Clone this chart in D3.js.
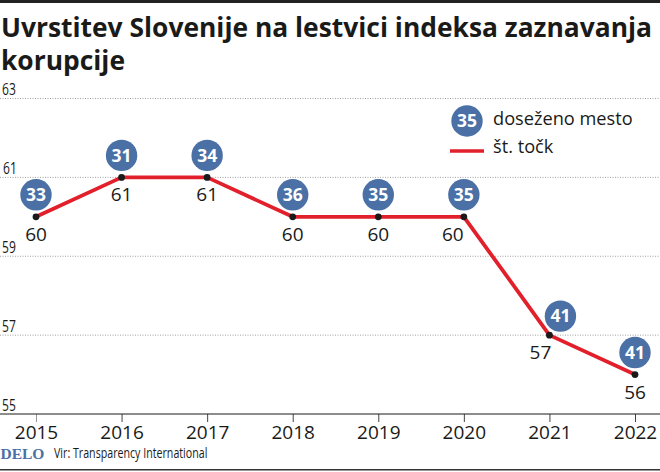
<![CDATA[<!DOCTYPE html>
<html><head><meta charset="utf-8">
<script src="https://cdn.jsdelivr.net/npm/d3@7"></script>
<style>html,body{margin:0;padding:0;background:#fff}svg{display:block}text{font-family:"Open Sans",sans-serif}</style>
</head><body><svg id="c" width="660" height="472"></svg>
<script>
const years=[2015,2016,2017,2018,2019,2020,2021,2022];
const points=[60,61,61,60,60,60,57,56];
const ranks=[33,31,34,36,35,35,41,41];
const yTicks=[55,57,59,61,63];
const titleLines=["Uvrstitev Slovenije na lestvici indeksa zaznavanja","korupcije"];
const legendRank=35;
const legendRankLabel="doseženo mesto";
const legendLineLabel="št. točk";
const source="Vir: Transparency International";
const brand="DELO";
const INK="#1a1a18",RED="#e2202c",BLUE="#4a70a6";

const svg=d3.select("#c");
const x=d3.scalePoint().domain(years).range([36,635]);
const y=d3.scaleLinear().domain([55,63]).range([414,98.5]);

// rules
svg.append("rect").attr("x",0).attr("y",0).attr("width",660).attr("height",3).attr("fill","#222");
svg.append("rect").attr("x",0).attr("y",469).attr("width",660).attr("height",1.5).attr("fill","#333");

// title
svg.append("g").selectAll("text").data(titleLines).join("text")
 .attr("x",1).attr("y",(d,i)=>37+i*33)
 .attr("font-size",26.4).attr("font-weight",700).attr("fill",INK).text(d=>d);

// grid + y labels (horizontally condensed)
svg.append("g").selectAll("line").data(yTicks.filter(d=>d!==55)).join("line")
 .attr("x1",0).attr("x2",660).attr("y1",d=>y(d)).attr("y2",d=>y(d))
 .attr("stroke","#888").attr("stroke-width",.8).attr("stroke-dasharray","1 1.5");
svg.append("g").selectAll("text").data(yTicks).join("text")
 .attr("transform",d=>`translate(${d===61?3:2},${y(d)-3.5}) scale(.78,1)`)
 .attr("font-size",15.5).attr("fill",INK).text(d=>d);

// x axis
const ax=svg.append("g").attr("transform",`translate(0,${y(55)})`)
 .call(d3.axisBottom(x).tickSize(8).tickPadding(3.5).tickFormat(d3.format("d")));
ax.select(".domain").remove();
ax.append("line").attr("x1",0).attr("x2",660).attr("stroke",INK).attr("stroke-width",1);
ax.selectAll(".tick line").attr("stroke",d=>d===2015?"#999":"#444");
ax.selectAll(".tick text").attr("font-size",19).attr("fill",INK).style("font-family",'"Open Sans",sans-serif');

// line
const rows=years.map((yr,i)=>({yr,p:points[i],r:ranks[i]}));
svg.append("path").datum(rows)
 .attr("d",d3.line().x(d=>x(d.yr)).y(d=>y(d.p)))
 .attr("fill","none").attr("stroke",RED).attr("stroke-width",3.8).attr("stroke-linejoin","round");
svg.append("g").selectAll("circle").data(rows).join("circle")
 .attr("cx",d=>x(d.yr)).attr("cy",d=>y(d.p)).attr("r",3.4).attr("fill","#1a1a1a");

// value labels
const labelDx=d=>d.yr===2020?-11:d.yr===2021?-9:0;
svg.append("g").selectAll("text").data(rows).join("text")
 .attr("x",d=>x(d.yr)+labelDx(d)).attr("y",d=>y(d.p)+24)
 .attr("text-anchor","middle").attr("font-size",19).attr("fill",INK).text(d=>d.p);

// rank badges
const badgeDx=d=>d.yr===2021?11:0;
const badgeDy=d=>d.yr===2021?-19:-22;
const badge=svg.append("g").selectAll("g").data(rows).join("g")
 .attr("transform",d=>`translate(${x(d.yr)+badgeDx(d)},${y(d.p)+badgeDy(d)})`);
badge.append("circle").attr("r",15.7).attr("fill",BLUE);
badge.append("text").attr("y",6.3).attr("text-anchor","middle").attr("font-size",17.5).attr("font-weight",700).attr("fill","#fff").text(d=>d.r);

// legend
const lg=svg.append("g");
lg.append("circle").attr("cx",467).attr("cy",121).attr("r",15.7).attr("fill",BLUE);
lg.append("text").attr("x",467).attr("y",127.3).attr("text-anchor","middle").attr("font-size",17.5).attr("font-weight",700).attr("fill","#fff").text(legendRank);
lg.append("line").attr("x1",450).attr("x2",484).attr("y1",151).attr("y2",151).attr("stroke",RED).attr("stroke-width",3.4);
lg.append("text").attr("x",493).attr("y",124.5).attr("font-size",18.2).attr("fill",INK).text(legendRankLabel);
lg.append("text").attr("x",493).attr("y",153).attr("font-size",18.2).attr("fill",INK).text(legendLineLabel);

// footer
svg.append("text").attr("x",0.5).attr("y",459).style("font-family",'"Liberation Serif",serif')
 .attr("font-size",15.5).attr("font-weight",700).attr("fill",BLUE).text(brand);
svg.append("text").attr("transform","translate(54,458) scale(.735,1)")
 .attr("font-size",14.5).attr("fill",INK).text(source);
</script></body></html>]]>
